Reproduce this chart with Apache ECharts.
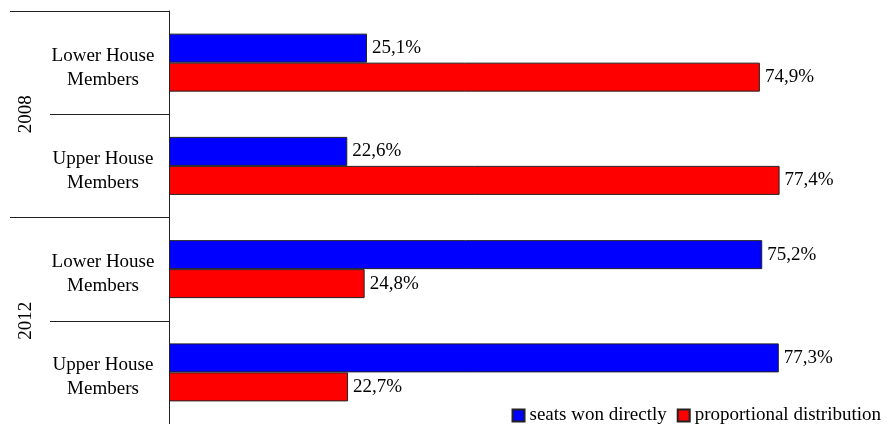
<!DOCTYPE html>
<html>
<head>
<meta charset="utf-8">
<script src="https://cdn.jsdelivr.net/npm/echarts@6/dist/echarts.min.js"></script>
<style>html,body{margin:0;padding:0;background:#fff}#c{width:888px;height:424px}</style>
</head>
<body>
<div id="c"></div>
<script>
var years = ['2008', '2012'];
var chambers = ['Lower House\nMembers', 'Upper House\nMembers', 'Lower House\nMembers', 'Upper House\nMembers'];
var seriesNames = ['seats won directly', 'proportional distribution'];
var direct = [25.1, 22.6, 75.2, 77.3];
var proportional = [74.9, 77.4, 24.8, 22.7];

var FONT = '"Liberation Serif", "Times New Roman", serif';
var chart = echarts.init(document.getElementById('c'), null, {renderer: 'canvas'});
function fmt(p) { return p.value.toFixed(1).replace('.', ',') + '%'; }
var lbl = {show: true, position: 'right', distance: 5, formatter: fmt, color: '#000', fontFamily: FONT, fontSize: 19};
chart.setOption({
  animation: false,
  textStyle: {fontFamily: FONT},
  grid: {left: 169, top: 11, height: 416, width: 710},
  xAxis: {type: 'value', min: 0, max: 90, show: false},
  yAxis: [
    {
      type: 'category', data: chambers, inverse: true, position: 'left',
      axisLine: {show: true, lineStyle: {color: '#222', width: 1}},
      axisTick: {show: true, length: 119, lineStyle: {color: '#222', width: 1}},
      axisLabel: {
        align: 'center', margin: 66, color: '#000', fontFamily: FONT, fontSize: 19, lineHeight: 24,
        formatter: function (v) {
          return '{s| }\n' + v.split('\n').map(function (s) { return '{t|' + s + '}'; }).join('\n');
        },
        rich: {
          s: {fontSize: 4, lineHeight: 10},
          t: {fontFamily: FONT, fontSize: 19, lineHeight: 24, color: '#000'}
        }
      },
      splitLine: {show: false}
    },
    {
      type: 'category', data: years, inverse: true, position: 'left',
      axisLine: {show: false},
      axisTick: {show: true, length: 159, lineStyle: {color: '#222', width: 1}},
      axisLabel: {rotate: 90, margin: 133, color: '#000', fontFamily: FONT, fontSize: 19},
      splitLine: {show: false}
    }
  ],
  legend: {
    right: 2, top: 401, itemWidth: 12, itemHeight: 12, itemGap: 10,
    icon: 'rect',
    textStyle: {fontFamily: FONT, fontSize: 19, color: '#000'},
    data: seriesNames
  },
  series: [
    {name: seriesNames[0], type: 'bar', yAxisIndex: 0, data: direct, barWidth: 29, barGap: '0%',
     itemStyle: {color: '#0000FF', borderColor: '#222', borderWidth: 1}, label: lbl},
    {name: seriesNames[1], type: 'bar', yAxisIndex: 0, data: proportional, barWidth: 29, barGap: '0%',
     itemStyle: {color: '#FF0000', borderColor: '#222', borderWidth: 1}, label: lbl}
  ]
});
</script>
</body>
</html>
